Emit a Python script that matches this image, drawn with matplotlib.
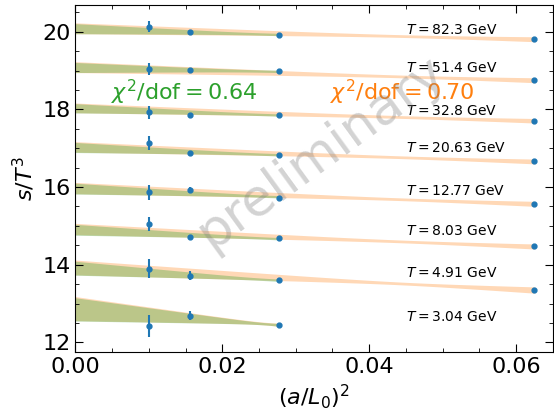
import numpy as np
import matplotlib
matplotlib.use('Agg')
import matplotlib.pyplot as plt
from matplotlib.ticker import AutoMinorLocator

# lattice sizes L0/a -> x = (a/L0)^2
L0_over_a = np.array([10, 8, 6, 4])
x_data = 1.0 / L0_over_a**2

temps = ['82.3', '51.4', '32.8', '20.63', '12.77', '8.03', '4.91', '3.04']

# s/T^3 at each lattice size (nan = not simulated)
s_vals = np.array([
    [20.13, 19.995, 19.93, 19.81],
    [19.03, 19.005, 18.98, 18.755],
    [17.93, 17.85, 17.86, 17.71],
    [17.14, 16.87, 16.83, 16.66],
    [15.87, 15.93, 15.73, 15.57],
    [15.05, 14.72, 14.69, 14.47],
    [13.90, 13.72, 13.61, 13.35],
    [12.43, 12.69, 12.45, np.nan],
])
s_errs = np.array([
    [0.145, 0.035, 0.015, 0.01],
    [0.155, 0.03, 0.015, 0.01],
    [0.17, 0.04, 0.015, 0.01],
    [0.18, 0.04, 0.015, 0.01],
    [0.19, 0.08, 0.015, 0.01],
    [0.185, 0.04, 0.015, 0.01],
    [0.24, 0.11, 0.015, 0.01],
    [0.28, 0.125, 0.02, np.nan],
])

# linear fits c0 + c1 x : orange = all points, green = without coarsest
fit_o_c0 = [20.09, 19.09, 18.04, 17.035, 15.975, 14.92, 13.93, 12.87]
fit_o_c1 = [-4.5, -5.4, -5.3, -6.0, -6.5, -7.2, -9.3, -15.0]
fit_o_w0 = [0.14, 0.14, 0.125, 0.135, 0.145, 0.145, 0.19, 0.31]
fit_g_c0 = [20.08, 19.08, 18.03, 17.02, 15.96, 14.90, 13.91, 12.85]
fit_g_c1 = [-5.4, -3.6, -6.3, -6.8, -7.6, -8.3, -11.2, -14.4]
fit_g_w0 = [0.13, 0.13, 0.12, 0.13, 0.14, 0.14, 0.18, 0.30]

label_y = [20.04, 19.06, 17.96, 17.0, 15.9, 14.87, 13.78, 12.66]


def band(x, c0, c1, w0, wp, xp):
    # error band of a linear fit, narrowest (wp) at pivot xp
    sb = np.sqrt(w0**2 - wp**2) / xp
    err = np.sqrt(wp**2 + (sb * (x - xp))**2)
    mid = c0 + c1 * x
    return mid - err, mid + err


fig = plt.figure(figsize=(5.54, 4.11), dpi=100)
ax = fig.add_axes([0.136, 0.1443, 0.8617, 0.8435])

for i in range(len(temps)):
    ok = ~np.isnan(s_vals[i])
    xmax_o = x_data[ok].max()
    xo = np.linspace(0, xmax_o, 100)
    lo, hi = band(xo, fit_o_c0[i], fit_o_c1[i], fit_o_w0[i], 0.035,
                  0.045 if xmax_o > 0.05 else 0.026)
    ax.fill_between(xo, lo, hi, color='C1', alpha=0.3, lw=0)

    xg = np.linspace(0, x_data[2], 100)
    lo, hi = band(xg, fit_g_c0[i], fit_g_c1[i], fit_g_w0[i], 0.03, 0.026)
    ax.fill_between(xg, lo, hi, color='C2', alpha=0.32, lw=0)

    ax.errorbar(x_data[ok], s_vals[i][ok], yerr=s_errs[i][ok], fmt='o',
                color='C0', ms=3.5, elinewidth=1.5, capsize=0, zorder=5)

    ax.text(0.045, label_y[i], '$T = ' + temps[i] + '$ GeV', fontsize=10,
            va='center', ha='left')

ax.text(0.0049, 18.44, r'$\chi^2/\mathrm{dof} = 0.64$', color='C2',
        fontsize=16, va='center')
ax.text(0.0347, 18.44, r'$\chi^2/\mathrm{dof} = 0.70$', color='C1',
        fontsize=16, va='center')

ax.text(0.515, 0.575, 'preliminary', transform=ax.transAxes, fontsize=37,
        color='gray', alpha=0.35, rotation=36, ha='center', va='center')

ax.set_xlim(0, 0.065)
ax.set_ylim(11.76, 20.69)
ax.set_yticks([12, 14, 16, 18, 20])
ax.set_xticks([0, 0.02, 0.04, 0.06])
ax.xaxis.set_minor_locator(AutoMinorLocator())
ax.yaxis.set_minor_locator(AutoMinorLocator())
ax.tick_params(which='both', direction='in', top=True, right=True,
               labelsize=16)
ax.tick_params(which='major', length=6)
ax.tick_params(which='minor', length=3)

ax.set_xlabel(r'$(a/L_0)^2$', fontsize=16)
ax.set_ylabel(r'$s/T^3$', fontsize=16)

plt.savefig('out.png', dpi=100)
